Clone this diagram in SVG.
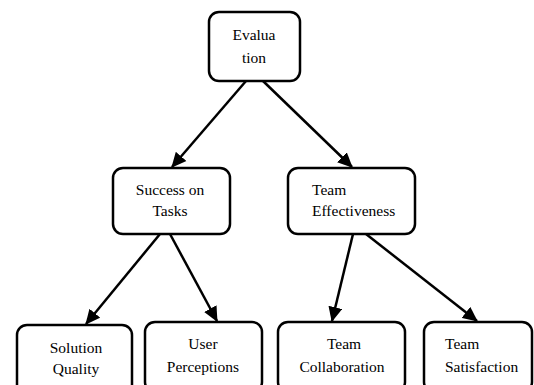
<svg xmlns="http://www.w3.org/2000/svg" width="534" height="385" viewBox="0 0 534 385">
<style>
.box{fill:#fff;stroke:#000;stroke-width:2.5}
.t{font-family:"Liberation Serif","Times New Roman",serif;font-size:15.5px;fill:#000}
.m{text-anchor:middle}
.c{stroke:#000;stroke-width:2.5;fill:none;marker-end:url(#ah)}
</style>
<defs>
<marker id="ah" markerWidth="6" markerHeight="6" refX="5.6" refY="3" orient="auto" markerUnits="strokeWidth">
<path d="M0,0.2 L6,3 L0,5.8 Z" fill="#000"/>
</marker>
</defs>
<rect width="534" height="385" fill="#fff"/>
<g id="connectors">
<line class="c" x1="246" y1="81" x2="172" y2="167"/>
<line class="c" x1="263" y1="81" x2="352" y2="167"/>
<line class="c" x1="160" y1="234" x2="86" y2="324"/>
<line class="c" x1="170" y1="234" x2="217" y2="321"/>
<line class="c" x1="353" y1="234" x2="332" y2="321"/>
<line class="c" x1="366" y1="234" x2="477" y2="321"/>
</g>
<g id="evaluation">
<rect class="box" x="209" y="12" width="91" height="69" rx="10"/>
<text class="t m" x="254" y="40">Evalua</text>
<text class="t m" x="254" y="63">tion</text>
</g>
<g id="success">
<rect class="box" x="113" y="168" width="117" height="66" rx="10"/>
<text class="t m" x="170" y="195">Success on</text>
<text class="t m" x="170" y="216">Tasks</text>
</g>
<g id="teameff">
<rect class="box" x="288" y="168" width="127" height="66" rx="10"/>
<text class="t" x="312" y="195">Team</text>
<text class="t" x="312" y="216">Effectiveness</text>
</g>
<g id="solution">
<rect class="box" x="17" y="325" width="115" height="70" rx="10"/>
<text class="t m" x="76" y="353">Solution</text>
<text class="t m" x="76" y="374">Quality</text>
</g>
<g id="user">
<rect class="box" x="145" y="322" width="117" height="70" rx="10"/>
<text class="t m" x="203" y="349">User</text>
<text class="t m" x="203" y="372">Perceptions</text>
</g>
<g id="collab">
<rect class="box" x="278" y="322" width="127" height="70" rx="10"/>
<text class="t m" x="344" y="349">Team</text>
<text class="t m" x="342" y="372">Collaboration</text>
</g>
<g id="satisf">
<rect class="box" x="424" y="322" width="108" height="70" rx="10"/>
<text class="t" x="445" y="349">Team</text>
<text class="t" x="445" y="372">Satisfaction</text>
</g>
</svg>
